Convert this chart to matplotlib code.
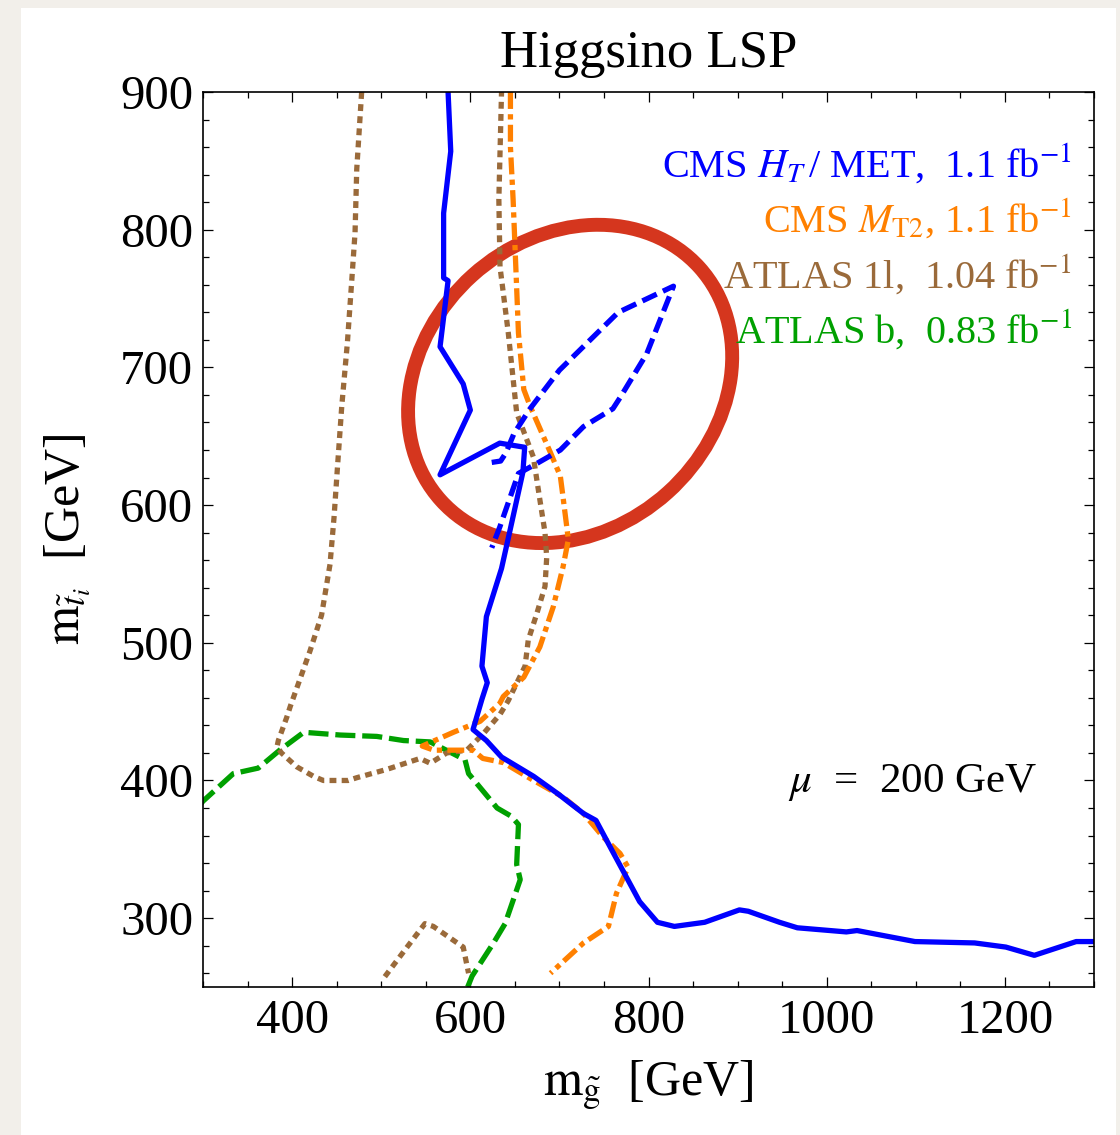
import matplotlib
matplotlib.use('Agg')
import matplotlib.pyplot as plt
from matplotlib.patches import Ellipse, Rectangle
from matplotlib.transforms import ScaledTranslation
from matplotlib.ticker import MultipleLocator

plt.rcParams['font.family'] = ['Liberation Serif', 'DejaVu Serif']
plt.rcParams['mathtext.fontset'] = 'stix'

# CMS HT/MET (solid)
cms_ht_x = [575, 578, 570, 570, 575, 566, 592, 600, 566, 633, 661, 659, 645, 635, 618, 613, 619, 613, 603,
            618, 635, 671, 699, 727, 741, 760, 790, 810, 829, 863, 902, 912, 947, 967, 1022, 1034, 1099,
            1166, 1201, 1233, 1280, 1300]
cms_ht_y = [900, 857, 812, 765, 763, 715, 688, 669, 622, 645, 642, 624, 583, 554, 519, 483, 471, 459, 437,
            429, 417, 403, 390, 376, 371, 348, 312, 297, 294, 297, 306, 305, 297, 293, 290, 291, 283,
            282, 279, 273, 283, 283]

# CMS HT/MET second contour (dashed)
cms_ht2_x = [624, 634, 640, 649, 667, 700, 766, 828, 798, 768, 760, 727, 701, 674, 654, 633, 624]
cms_ht2_y = [631, 632, 638, 652, 670, 698, 740, 759, 710, 678, 670, 657, 640, 630, 623, 584, 569]

# CMS MT2 (dash-dot)
cms_mt2_x = [645, 645, 648, 654, 660, 667, 690, 701, 704, 710, 704, 693, 678, 660, 637, 633, 611, 581,
             546, 559, 603, 614, 637, 671, 704, 727, 749, 768, 777, 764, 755, 727, 690]
cms_mt2_y = [900, 860, 822, 725, 684, 672, 638, 621, 606, 575, 555, 526, 497, 475, 461, 456, 443, 435,
             425, 422, 422, 416, 413, 400, 388, 376, 359, 347, 337, 318, 294, 282, 260]

# ATLAS 1l (dotted)
atlas_1l_x = [478, 472.5, 470.6, 467, 462, 455.7, 450.7, 447, 442.5, 433, 420, 409, 398, 394, 384.5, 383,
              388, 405, 424, 435, 463, 472.5, 506, 543.5, 555, 573.5, 596, 614.6, 633.3, 642.6, 650,
              661.4, 665, 674.5, 683.8, 685.7, 683.8, 678, 670.7, 652, 642.6, 637, 633.3, 632, 635]
atlas_1l_y = [900, 844, 798, 764, 718, 672, 626, 591, 557, 520, 494, 474, 454, 446, 429, 424.5,
              420, 410, 403, 400, 400, 402, 408, 416, 412.5, 420, 422, 434, 448, 458, 468,
              483, 502, 521, 541, 562, 580, 604, 635, 667, 725, 754, 773, 822, 900]
atlas_1l_low_x = [504, 529, 549, 558.5, 592, 598]
atlas_1l_low_y = [257.5, 279, 296, 294, 279, 260]

# ATLAS b (dashed)
atlas_b_x = [296, 300, 334, 362, 386, 413, 454, 495, 525, 555, 570, 594, 598, 630, 646, 654, 652, 656,
             639, 626, 602, 597]
atlas_b_y = [382, 385, 405, 409, 422, 435, 433, 432, 429, 428, 423, 415, 405, 380, 374, 368, 339, 328,
             296, 282, 258, 250]

legend_texts = [r'CMS $H_T\,$/ MET,  1.1 fb$^{-1}$',
                r'CMS $M_{\mathrm{T2}}$, 1.1 fb$^{-1}$',
                r'ATLAS 1l,  1.04 fb$^{-1}$',
                r'ATLAS b,  0.83 fb$^{-1}$']

blue = '#0000ff'
orange = '#ff8000'
brown = '#9a6a3a'
green = '#00a000'
red = '#d5361e'

fig = plt.figure(figsize=(11.2, 11.35), dpi=100, facecolor='#f2efea')
fig.patches.append(Rectangle((0.01875, 0), 0.978, 0.993, transform=fig.transFigure,
                             facecolor='white', edgecolor='none', zorder=-10))
ax = fig.add_axes([0.1813, 0.1304, 0.7955, 0.7885])

lw = 3.8
ax.plot(atlas_b_x, atlas_b_y, color=green, lw=lw, dashes=(3.8, 1.3))
ax.plot(atlas_1l_x, atlas_1l_y, color=brown, lw=lw, dashes=(1.3, 1.0))
ax.plot(atlas_1l_low_x, atlas_1l_low_y, color=brown, lw=lw, dashes=(1.3, 1.0))
ax.plot(cms_mt2_x, cms_mt2_y, color=orange, lw=lw, dashes=(3.2, 1.0, 1.0, 1.0))
ax.plot(cms_ht2_x, cms_ht2_y, color=blue, lw=lw, dashes=(3.0, 1.3))
ax.plot(cms_ht_x, cms_ht_y, color=blue, lw=lw)

# red ring
ring = Ellipse((0, 0), 3.48, 2.92, angle=42, fill=False, edgecolor=red, lw=10,
               transform=fig.dpi_scale_trans + ScaledTranslation(712, 688, ax.transData))
ax.add_patch(ring)

ax.set_xlim(300, 1300)
ax.set_ylim(250, 900)
ax.xaxis.set_major_locator(MultipleLocator(200))
ax.xaxis.set_minor_locator(MultipleLocator(50))
ax.yaxis.set_major_locator(MultipleLocator(100))
ax.yaxis.set_minor_locator(MultipleLocator(20))
ax.tick_params(which='both', direction='in', top=True, right=True, labelsize=35, width=0.9)
ax.tick_params(which='major', length=7)
ax.tick_params(which='minor', length=4.3)
ax.tick_params(axis='y', pad=7)
ax.tick_params(axis='x', pad=9)
for s in ax.spines.values():
    s.set_linewidth(1.2)

ax.set_title('Higgsino LSP', fontsize=38, pad=18)
ax.set_xlabel(r'$\mathrm{m}_{\tilde{\mathrm{g}}}$  [GeV]', fontsize=36)
ax.set_ylabel(r'$\mathrm{m}_{\tilde{t}_i}$  [GeV]', fontsize=36)
ax.xaxis.set_label_coords(0.5, -0.08)
ax.yaxis.set_label_coords(-0.125, 0.5)

for i, (t, c) in enumerate(zip(legend_texts, [blue, orange, brown, green])):
    ax.text(0.975, 0.905 - i * 0.0615, t, color=c, fontsize=29, ha='right', va='baseline',
            transform=ax.transAxes)

ax.text(0.936, 0.218, r'$\mu$  =  200 GeV', fontsize=31, ha='right', va='baseline',
        transform=ax.transAxes)

fig.savefig('out.png', dpi=100, facecolor=fig.get_facecolor())
